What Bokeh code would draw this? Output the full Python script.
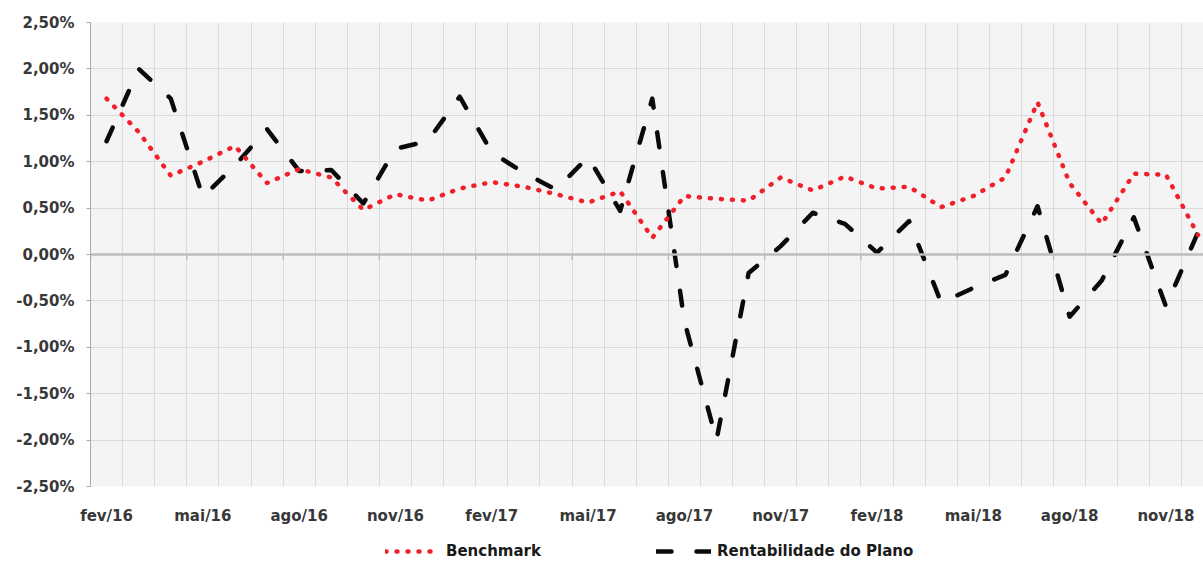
from bokeh.plotting import figure
from bokeh.layouts import column
from bokeh.models import Range1d, FixedTicker, Span, Legend, LegendItem
from bokeh.embed import file_html
from bokeh.resources import INLINE

# ---- data -------------------------------------------------------------
months = ["fev/16", "mar/16", "abr/16", "mai/16", "jun/16", "jul/16", "ago/16",
          "set/16", "out/16", "nov/16", "dez/16", "jan/17", "fev/17", "mar/17",
          "abr/17", "mai/17", "jun/17", "jul/17", "ago/17", "set/17", "out/17",
          "nov/17", "dez/17", "jan/18", "fev/18", "mar/18", "abr/18", "mai/18",
          "jun/18", "jul/18", "ago/18", "set/18", "out/18", "nov/18", "dez/18"]

benchmark = [1.68, 1.32, 0.85, 1.00, 1.17, 0.77, 0.92, 0.83, 0.48, 0.65,
             0.58, 0.71, 0.78, 0.73, 0.65, 0.56, 0.68, 0.18, 0.63, 0.60,
             0.58, 0.83, 0.69, 0.84, 0.71, 0.73, 0.51, 0.63, 0.83, 1.64,
             0.77, 0.33, 0.87, 0.86, 0.21]

rentabilidade = [1.22, 2.00, 1.68, 0.62, 0.96, 1.35, 0.90, 0.91, 0.55, 1.14,
                 1.22, 1.70, 1.10, 0.88, 0.70, 1.05, 0.47, 1.68, -0.72, -2.00,
                 -0.20, 0.09, 0.45, 0.33, 0.02, 0.36, -0.52, -0.36, -0.22, 0.52,
                 -0.67, -0.28, 0.40, -0.56, 0.24]

y_ticks = [-2.5, -2.0, -1.5, -1.0, -0.5, 0.0, 0.5, 1.0, 1.5, 2.0, 2.5]
y_tick_labels = ["-2,50%", "-2,00%", "-1,50%", "-1,00%", "-0,50%", "0,00%",
                 "0,50%", "1,00%", "1,50%", "2,00%", "2,50%"]

series_names = ["Benchmark", "Rentabilidade do Plano"]
label_step = 3

# ---- styles -----------------------------------------------------------
FONT = "DejaVu Sans"
RED = "#f0202a"
BLACK = "#0a0a0a"
bench_style = dict(line_color=RED, line_width=4.5, line_dash="1 10",
                   line_cap="round", line_join="round")
rent_style = dict(line_color=BLACK, line_width=4.5, line_dash="15 25",
                  line_cap="round", line_join="round")

W = 1203
LEFT = 90

# ---- main figure ------------------------------------------------------
x = list(range(len(months)))
label_idx = x[::label_step]

p = figure(width=W, height=530, output_backend="svg", toolbar_location=None,
           x_range=Range1d(-0.5, 34.17), y_range=Range1d(-2.5, 2.5),
           min_border_left=LEFT, min_border_right=0, min_border_top=22,
           min_border_bottom=44)
p.background_fill_color = "#f4f4f4"
p.border_fill_color = "white"
p.outline_line_color = None

# y axis
p.yaxis.ticker = FixedTicker(ticks=y_ticks)
p.yaxis.major_label_overrides = {t: l for t, l in zip(y_ticks, y_tick_labels)}
p.yaxis.axis_line_color = "#a8a8a8"
p.yaxis.major_tick_line_color = "#a8a8a8"
p.yaxis.major_tick_out = 4
p.yaxis.major_tick_in = 0
p.yaxis.minor_tick_line_color = None
p.yaxis.major_label_standoff = 12
p.yaxis.major_label_text_font = FONT
p.yaxis.major_label_text_font_style = "bold"
p.yaxis.major_label_text_font_size = "15px"
p.yaxis.major_label_text_color = "#383838"

# x axis
p.xaxis.ticker = FixedTicker(ticks=label_idx)
p.xaxis.major_label_overrides = {i: months[i] for i in label_idx}
p.xaxis.axis_line_color = None
p.xaxis.major_tick_line_color = None
p.xaxis.minor_tick_line_color = None
p.xaxis.major_label_standoff = 14
p.xaxis.major_label_text_font = FONT
p.xaxis.major_label_text_font_style = "bold"
p.xaxis.major_label_text_font_size = "15px"
p.xaxis.major_label_text_color = "#383838"

# grids
p.xgrid.ticker = FixedTicker(ticks=[i - 0.5 for i in x] + [len(x) - 0.5])
p.xgrid.grid_line_color = "#dadada"
p.ygrid.grid_line_color = "#dadada"

# zero line with category tick marks
p.add_layout(Span(location=0, dimension="width", line_color="#bdbdbd", line_width=2.5))
tick_x = [i - 0.5 for i in label_idx]
p.segment(x0=tick_x, y0=[0] * len(tick_x), x1=tick_x, y1=[-0.06] * len(tick_x),
          line_color="#bdbdbd", line_width=1.5)

# series
p.line(x, rentabilidade, **rent_style)
p.line(x, benchmark, **bench_style)

# ---- legend strip -----------------------------------------------------
lg = figure(width=W, height=32, output_backend="svg", toolbar_location=None,
            x_range=Range1d(0, 1), y_range=Range1d(0, 1),
            min_border_left=LEFT, min_border_right=0, min_border_top=0,
            min_border_bottom=0)
lg.axis.visible = False
lg.grid.visible = False
lg.outline_line_color = None
lg.background_fill_color = "white"
lg.border_fill_color = "white"
# hidden sample renderers (outside the visible range) that only feed the legend
l1 = lg.line([-5, -4], [-5, -4], **bench_style)
l2 = lg.line([-5, -4], [-5, -4], **rent_style)
legend = Legend(items=[LegendItem(label=series_names[0], renderers=[l1]),
                       LegendItem(label=series_names[1], renderers=[l2])],
                orientation="horizontal", location=(295, 1),
                glyph_width=55, glyph_height=20, label_standoff=6, spacing=115,
                label_text_font=FONT, label_text_font_style="bold",
                label_text_font_size="15px", label_text_color="#1a1a1a",
                border_line_color=None, background_fill_alpha=0,
                padding=0, margin=0)
lg.add_layout(legend)

layout = column(p, lg, spacing=0)
open("out.html", "w").write(file_html(layout, INLINE))
